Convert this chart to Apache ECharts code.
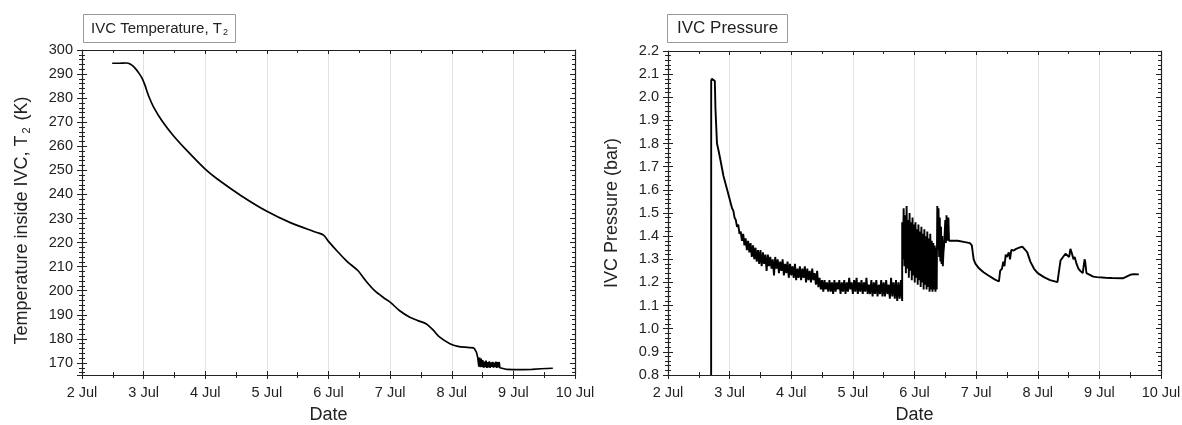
<!DOCTYPE html>
<html>
<head>
<meta charset="utf-8">
<script src="https://cdn.jsdelivr.net/npm/echarts@6/dist/echarts.min.js"></script>
<style>
  html, body { margin: 0; padding: 0; background: #fff; }
  #chart { width: 1182px; height: 425px; }
</style>
</head>
<body>
<div id="chart"></div>
<script>
// x values are days of July (2 = 2 Jul 00:00)
const dayRange = [2, 10];
const tempRange = [165, 300];
const pressureRange = [0.8, 2.2];

// IVC temperature T2 (K)
const tempCooldown = [
  [2.49, 294.5], [2.6, 294.5], [2.72, 294.6], [2.78, 294.2], [2.85, 292.8], [2.92, 290.5],
  [2.97, 288.5], [3.02, 285.5], [3.08, 281.0], [3.16, 276.4], [3.3, 270.5], [3.48, 264.5],
  [3.7, 258.3], [4.0, 250.5], [4.19, 246.5], [4.57, 239.7], [5.0, 233.0], [5.38, 228.3],
  [5.81, 224.2], [5.92, 223.1], [6.0, 220.5], [6.15, 216.2], [6.3, 212.2], [6.48, 208.3],
  [6.6, 204.3], [6.75, 200.0], [6.9, 197.0], [7.0, 195.3], [7.15, 191.8], [7.32, 189.0],
  [7.45, 187.6], [7.59, 186.2], [7.7, 183.6], [7.8, 180.8], [7.97, 178.0], [8.1, 176.9],
  [8.25, 176.5], [8.36, 176.3]
];
const tempNoise = [
  [8.40, 174.5], [8.42, 172.5],
  [8.43, 172.8], [8.44, 168.5], [8.452, 172.2], [8.465, 168.2], [8.478, 171.8], [8.49, 168.4],
  [8.503, 171.2], [8.516, 168.0], [8.53, 170.6], [8.543, 168.3], [8.556, 171.0], [8.57, 168.0],
  [8.583, 170.4], [8.596, 168.2], [8.61, 170.7], [8.623, 168.0], [8.636, 170.2], [8.65, 168.4],
  [8.663, 170.5], [8.676, 168.1], [8.69, 170.1], [8.703, 168.3], [8.716, 170.6], [8.73, 168.0],
  [8.743, 170.3], [8.756, 168.2], [8.77, 170.4], [8.78, 168.0]
];
const tempTail = [
  [8.8, 167.6], [8.9, 167.3], [9.0, 167.2], [9.15, 167.2], [9.3, 167.3], [9.45, 167.6], [9.64, 167.8]
];

// IVC pressure (bar)
const pressureRise = [
  [2.70, 0.80], [2.701, 2.07], [2.71, 2.08], [2.76, 2.07], [2.77, 1.95], [2.795, 1.80],
  [2.82, 1.77], [2.85, 1.73], [2.90, 1.66], [2.96, 1.60], [3.0, 1.56]
];
const pressureNoise = [
  [3.02, 1.54], [3.04, 1.52], [3.06, 1.51], [3.08, 1.48], [3.10, 1.47], [3.12, 1.44],
  [3.14, 1.45], [3.16, 1.41], [3.18, 1.42], [3.20, 1.38], [3.22, 1.41], [3.24, 1.36],
  [3.26, 1.39], [3.28, 1.34], [3.30, 1.38], [3.32, 1.33], [3.34, 1.37], [3.36, 1.31],
  [3.38, 1.36], [3.40, 1.30], [3.42, 1.35], [3.44, 1.29], [3.46, 1.34], [3.48, 1.28],
  [3.50, 1.34], [3.52, 1.27], [3.54, 1.33], [3.56, 1.28], [3.58, 1.32], [3.60, 1.25],
  [3.62, 1.32], [3.64, 1.27], [3.66, 1.31], [3.68, 1.26], [3.70, 1.30], [3.72, 1.23],
  [3.74, 1.31], [3.76, 1.26], [3.78, 1.30], [3.80, 1.24], [3.82, 1.29], [3.84, 1.25],
  [3.86, 1.30], [3.88, 1.23], [3.90, 1.28], [3.92, 1.24], [3.94, 1.29], [3.96, 1.22],
  [3.98, 1.28], [4.00, 1.23], [4.02, 1.27], [4.04, 1.22], [4.06, 1.28], [4.08, 1.21],
  [4.10, 1.26], [4.12, 1.22], [4.14, 1.27], [4.16, 1.21], [4.18, 1.26], [4.20, 1.22],
  [4.22, 1.27], [4.24, 1.20], [4.26, 1.26], [4.28, 1.21], [4.30, 1.25], [4.32, 1.20],
  [4.34, 1.26], [4.36, 1.21], [4.38, 1.24], [4.40, 1.19], [4.42, 1.25], [4.44, 1.18],
  [4.46, 1.22], [4.48, 1.17], [4.50, 1.21], [4.52, 1.16], [4.54, 1.21], [4.56, 1.17],
  [4.58, 1.20], [4.60, 1.16], [4.62, 1.21], [4.64, 1.16], [4.66, 1.20], [4.68, 1.15],
  [4.70, 1.21], [4.72, 1.16], [4.74, 1.20], [4.76, 1.17], [4.78, 1.21], [4.80, 1.15],
  [4.82, 1.20], [4.84, 1.16], [4.86, 1.21], [4.88, 1.15], [4.90, 1.20], [4.92, 1.16],
  [4.94, 1.22], [4.96, 1.17], [4.98, 1.20], [5.00, 1.15], [5.02, 1.21], [5.04, 1.16],
  [5.06, 1.22], [5.08, 1.15], [5.10, 1.20], [5.12, 1.16], [5.14, 1.21], [5.16, 1.15],
  [5.18, 1.20], [5.20, 1.16], [5.22, 1.22], [5.24, 1.15], [5.26, 1.19], [5.28, 1.15],
  [5.30, 1.21], [5.32, 1.14], [5.34, 1.20], [5.36, 1.15], [5.38, 1.21], [5.40, 1.14],
  [5.42, 1.19], [5.44, 1.15], [5.46, 1.21], [5.48, 1.14], [5.50, 1.20], [5.52, 1.14],
  [5.54, 1.21], [5.56, 1.15], [5.58, 1.19], [5.60, 1.13], [5.62, 1.22], [5.64, 1.14],
  [5.66, 1.20], [5.68, 1.13], [5.70, 1.21], [5.72, 1.12], [5.74, 1.20], [5.76, 1.13],
  [5.78, 1.21], [5.80, 1.12]
];
const pressureBurst = [
  [5.800, 1.46], [5.812, 1.30], [5.824, 1.52], [5.836, 1.27], [5.848, 1.49], [5.860, 1.24],
  [5.872, 1.53], [5.884, 1.26], [5.896, 1.47], [5.908, 1.22], [5.920, 1.50], [5.932, 1.25],
  [5.944, 1.46], [5.956, 1.21], [5.968, 1.48], [5.980, 1.23], [5.992, 1.45], [6.004, 1.20],
  [6.016, 1.46], [6.028, 1.22], [6.040, 1.43], [6.052, 1.19], [6.064, 1.45], [6.076, 1.21],
  [6.088, 1.42], [6.100, 1.18], [6.112, 1.44], [6.124, 1.20], [6.136, 1.41], [6.148, 1.17],
  [6.160, 1.43], [6.172, 1.19], [6.184, 1.40], [6.196, 1.17], [6.208, 1.42], [6.220, 1.18],
  [6.232, 1.39], [6.244, 1.16], [6.256, 1.41], [6.268, 1.17], [6.280, 1.38], [6.292, 1.16],
  [6.304, 1.37], [6.316, 1.17], [6.328, 1.36], [6.340, 1.16], [6.352, 1.35], [6.360, 1.17],
  [6.37, 1.53], [6.38, 1.34], [6.39, 1.52], [6.40, 1.31], [6.41, 1.48], [6.42, 1.29],
  [6.43, 1.44], [6.44, 1.28], [6.45, 1.40], [6.46, 1.27], [6.47, 1.33], [6.48, 1.36],
  [6.50, 1.47], [6.51, 1.37], [6.52, 1.49], [6.53, 1.38], [6.55, 1.48], [6.56, 1.38]
];
const pressureTail = [
  [6.60, 1.38], [6.70, 1.38], [6.80, 1.375], [6.90, 1.37], [6.93, 1.36],
  [6.96, 1.30], [6.99, 1.28], [7.05, 1.26], [7.12, 1.244], [7.2, 1.23], [7.3, 1.213],
  [7.37, 1.204], [7.39, 1.25], [7.42, 1.26], [7.44, 1.29], [7.46, 1.27], [7.48, 1.32],
  [7.50, 1.31], [7.53, 1.33], [7.55, 1.30], [7.57, 1.34], [7.61, 1.338], [7.65, 1.345],
  [7.70, 1.35], [7.75, 1.355], [7.78, 1.35], [7.80, 1.34], [7.83, 1.33], [7.88, 1.29],
  [7.94, 1.259], [8.0, 1.24], [8.1, 1.223], [8.2, 1.21], [8.32, 1.201], [8.34, 1.24],
  [8.37, 1.295], [8.41, 1.31], [8.45, 1.324], [8.48, 1.33], [8.51, 1.31], [8.53, 1.345],
  [8.56, 1.32], [8.58, 1.30], [8.60, 1.31], [8.63, 1.28], [8.66, 1.26], [8.69, 1.25],
  [8.73, 1.24], [8.75, 1.237], [8.76, 1.30], [8.77, 1.29], [8.79, 1.24], [8.83, 1.235],
  [8.9, 1.225], [8.96, 1.223], [9.1, 1.22], [9.2, 1.219], [9.38, 1.218], [9.44, 1.225],
  [9.5, 1.233], [9.56, 1.236], [9.64, 1.235]
];

const font = '"Liberation Sans", Arial, sans-serif';
const ink = '#222';

function subStyle(size, pad) {
  return { fontSize: size, fontFamily: font, color: ink, verticalAlign: 'bottom', padding: pad };
}

function xAxes(grid) {
  const base = { gridIndex: grid, type: 'value', min: dayRange[0], max: dayRange[1], interval: 1 };
  const tickLine = { color: ink, width: 1 };
  return [
    Object.assign({}, base, {
      position: 'bottom',
      name: 'Date', nameLocation: 'middle', nameGap: 31,
      nameTextStyle: { fontSize: 18, color: ink, fontFamily: font },
      axisLine: { onZero: false, lineStyle: { color: ink, width: 1.2 } },
      axisTick: { length: 4, lineStyle: tickLine },
      minorTick: { show: true, splitNumber: 2, length: 3, lineStyle: tickLine },
      axisLabel: { formatter: v => v + ' Jul', fontSize: 14.5, color: ink, fontFamily: font, margin: 10 },
      splitLine: { show: true, lineStyle: { color: '#e2e2e2', width: 1 } }
    }),
    Object.assign({}, base, {
      position: 'bottom',
      axisLine: { show: false, onZero: false },
      axisTick: { inside: true, length: 4, lineStyle: tickLine },
      minorTick: { show: true, splitNumber: 2, length: 3, lineStyle: tickLine },
      axisLabel: { show: false }, splitLine: { show: false }
    }),
    Object.assign({}, base, {
      position: 'top',
      axisLine: { onZero: false, lineStyle: { color: ink, width: 1.2 } },
      axisTick: { inside: true, length: 4, lineStyle: tickLine },
      minorTick: { show: true, splitNumber: 2, length: 3, lineStyle: tickLine },
      axisLabel: { show: false }, splitLine: { show: false }
    })
  ];
}

function yAxes(grid, scale, name, nameGap, namePad, labelFmt, hideMin) {
  const base = Object.assign({ gridIndex: grid, type: 'value' }, scale);
  const tickLine = { color: ink, width: 1 };
  return [
    Object.assign({}, base, {
      position: 'left',
      name: name, nameLocation: 'middle', nameGap: nameGap,
      nameTextStyle: { fontSize: 18, color: ink, fontFamily: font, padding: namePad,
                       rich: { sub: subStyle(11, [8, 2, 0, 2]) } },
      axisLine: { onZero: false, lineStyle: { color: ink, width: 1.2 } },
      axisTick: { length: 5, lineStyle: tickLine },
      minorTick: { show: true, splitNumber: 5, length: 3, lineStyle: tickLine },
      axisLabel: { formatter: labelFmt, fontSize: 14.5, color: ink, fontFamily: font, margin: 9, showMinLabel: !hideMin },
      splitLine: { show: false }
    }),
    Object.assign({}, base, {
      position: 'left',
      axisLine: { show: false, onZero: false },
      axisTick: { inside: true, length: 5, lineStyle: tickLine },
      minorTick: { show: true, splitNumber: 5, length: 3, lineStyle: tickLine },
      axisLabel: { show: false }, splitLine: { show: false }
    }),
    Object.assign({}, base, {
      position: 'right',
      axisLine: { onZero: false, lineStyle: { color: ink, width: 1.2 } },
      axisTick: { inside: true, length: 5, lineStyle: tickLine },
      minorTick: { show: true, splitNumber: 5, length: 3, lineStyle: tickLine },
      axisLabel: { show: false }, splitLine: { show: false }
    })
  ];
}

function titleBox(text, left, size, pad) {
  return {
    text: text, left: left, top: 14,
    borderColor: '#9a9a9a', borderWidth: 1, padding: pad,
    textStyle: { fontSize: size, fontWeight: 'normal', color: ink, fontFamily: font,
                 rich: { sub: subStyle(9, [7, 0, 0, 1]) } }
  };
}

const tempLine = { color: '#000', width: 1.7, join: 'bevel' };
const pressureLine = { color: '#000', width: 1.9, join: 'bevel' };

const chart = echarts.init(document.getElementById('chart'));
chart.setOption({
  animation: false,
  backgroundColor: '#fff',
  title: [
    titleBox('IVC Temperature, T{sub|2}', 83, 15, [7, 8, 6, 8]),
    titleBox('IVC Pressure', 667, 17, [6, 10, 6, 10])
  ],
  grid: [
    { left: 82, top: 50, width: 493, height: 325, containLabel: false, outerBoundsMode: 'none' },
    { left: 668, top: 51, width: 493, height: 324, containLabel: false, outerBoundsMode: 'none' }
  ],
  xAxis: xAxes(0).concat(xAxes(1)),
  yAxis: yAxes(0, { min: tempRange[0], max: tempRange[1], splitNumber: 13 },
               'Temperature inside IVC, T{sub|2} (K)', 50, [0, 16, 0, 0], v => String(v), true)
    .concat(yAxes(1, { min: pressureRange[0], max: pressureRange[1], interval: 0.1 },
                  'IVC Pressure (bar)', 47, 0, v => v.toFixed(1), false)),
  series: [
    {
      type: 'line', xAxisIndex: 0, yAxisIndex: 0, showSymbol: false, silent: true,
      smooth: 0.3, lineStyle: tempLine,
      data: tempCooldown
    },
    {
      type: 'line', xAxisIndex: 0, yAxisIndex: 0, showSymbol: false, silent: true,
      lineStyle: tempLine,
      data: tempCooldown.slice(-1).concat(tempNoise, tempTail)
    },
    {
      type: 'line', xAxisIndex: 3, yAxisIndex: 3, showSymbol: false, silent: true,
      lineStyle: pressureLine,
      data: pressureRise.concat(pressureNoise, pressureBurst, pressureTail)
    }
  ]
});
</script>
</body>
</html>
